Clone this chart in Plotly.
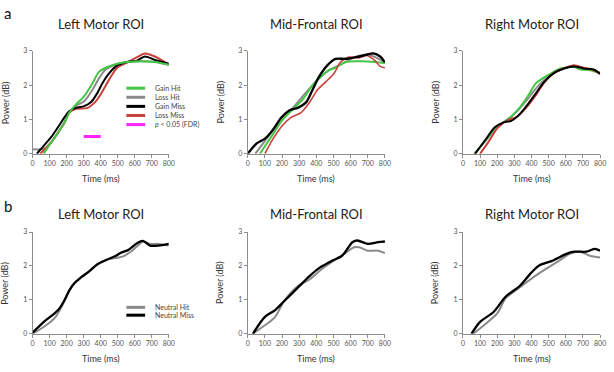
import plotly.graph_objects as go

# ---------------- data ----------------
# Panel a, Left Motor ROI
aL_gain_hit_t = [65, 110, 150, 187, 216, 255, 303, 352, 390, 429, 497, 560, 640, 720, 800]
aL_gain_hit_v = [0, 0.34, 0.62, 0.91, 1.2, 1.44, 1.68, 2.06, 2.39, 2.51, 2.63, 2.68, 2.7, 2.68, 2.6]
aL_loss_hit_t = [0, 50, 80, 110, 150, 187, 216, 255, 303, 352, 390, 429, 497, 560, 640, 720, 800]
aL_loss_hit_v = [0.13, 0.13, 0.18, 0.34, 0.62, 0.91, 1.22, 1.4, 1.53, 1.87, 2.2, 2.46, 2.62, 2.68, 2.7, 2.68, 2.6]
aL_gain_miss_t = [25, 70, 110, 150, 187, 216, 255, 303, 342, 380, 410, 448, 497, 555, 613, 660, 728, 800]
aL_gain_miss_v = [0, 0.26, 0.49, 0.78, 1.06, 1.25, 1.34, 1.39, 1.5, 1.77, 2.06, 2.34, 2.58, 2.68, 2.72, 2.84, 2.72, 2.63]
aL_loss_miss_t = [45, 110, 150, 187, 216, 255, 323, 371, 410, 448, 497, 555, 613, 660, 718, 800]
aL_loss_miss_v = [0, 0.34, 0.62, 0.91, 1.2, 1.31, 1.34, 1.53, 1.82, 2.15, 2.51, 2.66, 2.82, 2.93, 2.84, 2.6]
sig_start = [300]
sig_end = [400]
sig_level = 0.5

# Panel a, Mid-Frontal ROI
aM_gain_hit_t = [71, 148, 205, 263, 320, 378, 426, 474, 512, 570, 666, 742, 800]
aM_gain_hit_v = [0, 0.58, 1.0, 1.3, 1.58, 2.0, 2.25, 2.44, 2.51, 2.68, 2.7, 2.68, 2.65]
aM_loss_hit_t = [44, 110, 186, 263, 340, 416, 474, 551, 628, 704, 762, 800]
aM_loss_hit_v = [0, 0.44, 0.99, 1.34, 1.79, 2.2, 2.44, 2.63, 2.82, 2.9, 2.77, 2.67]
aM_gain_miss_t = [0, 52, 100, 148, 196, 244, 292, 340, 378, 416, 464, 512, 570, 628, 685, 733, 772, 800]
aM_gain_miss_v = [0, 0.3, 0.44, 0.7, 1.06, 1.27, 1.34, 1.5, 1.87, 2.25, 2.58, 2.77, 2.77, 2.82, 2.88, 2.93, 2.84, 2.67]
aM_loss_miss_t = [100, 148, 205, 253, 311, 359, 407, 455, 503, 541, 589, 647, 695, 742, 772, 800]
aM_loss_miss_v = [0, 0.44, 0.84, 1.06, 1.2, 1.49, 1.87, 2.1, 2.34, 2.68, 2.82, 2.8, 2.87, 2.72, 2.55, 2.51]

# Panel a, Right Motor ROI
aR_gain_hit_t = [71, 129, 186, 234, 282, 330, 378, 426, 464, 512, 570, 647, 685, 742, 800]
aR_gain_hit_v = [0, 0.38, 0.72, 0.91, 1.09, 1.34, 1.68, 2.06, 2.2, 2.34, 2.49, 2.53, 2.46, 2.44, 2.36]
aR_loss_hit_t = [65, 129, 186, 234, 282, 330, 378, 426, 474, 532, 589, 647, 704, 762, 800]
aR_loss_hit_v = [0, 0.36, 0.7, 0.9, 1.08, 1.32, 1.6, 1.91, 2.15, 2.36, 2.49, 2.56, 2.5, 2.45, 2.35]
aR_gain_miss_t = [71, 129, 186, 234, 282, 330, 378, 426, 474, 532, 589, 647, 704, 762, 800]
aR_gain_miss_v = [0, 0.39, 0.77, 0.91, 0.96, 1.15, 1.44, 1.77, 2.1, 2.36, 2.49, 2.55, 2.49, 2.46, 2.34]
aR_loss_miss_t = [100, 148, 205, 263, 311, 368, 426, 474, 532, 589, 647, 704, 762, 800]
aR_loss_miss_v = [0, 0.34, 0.77, 0.99, 1.06, 1.34, 1.72, 2.08, 2.36, 2.49, 2.58, 2.51, 2.44, 2.32]

# Panel b, Left Motor ROI
bL_neutral_hit_t = [0, 71, 129, 158, 187, 216, 245, 284, 332, 381, 439, 487, 535, 574, 622, 647, 690, 738, 800]
bL_neutral_hit_v = [0, 0.22, 0.46, 0.68, 0.97, 1.28, 1.49, 1.66, 1.84, 2.05, 2.19, 2.23, 2.29, 2.41, 2.62, 2.72, 2.65, 2.65, 2.6]
bL_neutral_miss_t = [0, 71, 129, 158, 187, 216, 245, 284, 332, 381, 439, 487, 516, 564, 613, 647, 690, 738, 800]
bL_neutral_miss_v = [0.03, 0.37, 0.6, 0.75, 0.99, 1.28, 1.49, 1.66, 1.84, 2.05, 2.19, 2.29, 2.38, 2.48, 2.67, 2.74, 2.6, 2.6, 2.65]

# Panel b, Mid-Frontal ROI
bM_neutral_hit_t = [30, 100, 160, 210, 290, 360, 430, 500, 560, 620, 650, 700, 760, 800]
bM_neutral_hit_v = [0, 0.25, 0.5, 0.95, 1.4, 1.6, 1.9, 2.15, 2.35, 2.55, 2.55, 2.45, 2.45, 2.38]
bM_neutral_miss_t = [30, 100, 160, 210, 300, 360, 420, 490, 550, 610, 640, 700, 760, 800]
bM_neutral_miss_v = [0, 0.5, 0.7, 0.95, 1.4, 1.7, 1.95, 2.15, 2.3, 2.7, 2.75, 2.65, 2.7, 2.72]

# Panel b, Right Motor ROI
bR_neutral_hit_t = [60, 110, 200, 250, 340, 420, 480, 560, 620, 680, 740, 800]
bR_neutral_hit_v = [0, 0.2, 0.6, 1.05, 1.4, 1.7, 1.9, 2.15, 2.35, 2.42, 2.3, 2.25]
bR_neutral_miss_t = [50, 100, 180, 250, 330, 390, 440, 520, 600, 650, 720, 770, 800]
bR_neutral_miss_v = [0, 0.35, 0.65, 1.1, 1.4, 1.75, 2.0, 2.15, 2.35, 2.42, 2.42, 2.5, 2.45]

roi_titles = ["Left Motor ROI", "Mid-Frontal ROI", "Right Motor ROI"]
x_ticks = [0, 100, 200, 300, 400, 500, 600, 700, 800]
y_ticks = [0, 1, 2, 3]
legend_a = ["Gain Hit", "Loss Hit", "Gain Miss", "Loss Miss", "<i>p</i> &lt; 0.05 (FDR)"]
legend_b = ["Neutral Hit", "Neutral Miss"]

# ---------------- styles ----------------
GREEN = "#45c545"
GRAY = "#8a8a8a"
BLACK = "#000000"
RED = "#c8413a"
MAGENTA = "#ff22ff"
FONT = "Lato"
W, H = 614, 372

def px(x):
    return x / W

def py(y):
    return 1 - y / H

fig = go.Figure()

col_x = [(31, 169), (249, 388), (467, 606)]
row_y = [(47, 152), (232, 336)]

def add(axis_idx, t, v, color, width=2):
    suffix = "" if axis_idx == 1 else str(axis_idx)
    fig.add_trace(go.Scatter(x=t, y=v, mode="lines", xaxis="x" + suffix, yaxis="y" + suffix,
                             line=dict(color=color, width=width, shape="spline", smoothing=0.8),
                             showlegend=False, hoverinfo="skip"))

# row a
add(1, aL_loss_hit_t, aL_loss_hit_v, GRAY)
add(1, aL_loss_miss_t, aL_loss_miss_v, RED)
add(1, aL_gain_miss_t, aL_gain_miss_v, BLACK)
add(1, aL_gain_hit_t, aL_gain_hit_v, GREEN)
for s, e in zip(sig_start, sig_end):
    fig.add_trace(go.Scatter(x=[s, e], y=[sig_level, sig_level], mode="lines", xaxis="x", yaxis="y",
                             line=dict(color=MAGENTA, width=3), showlegend=False, hoverinfo="skip"))

add(2, aM_loss_hit_t, aM_loss_hit_v, GRAY)
add(2, aM_gain_hit_t, aM_gain_hit_v, GREEN)
add(2, aM_loss_miss_t, aM_loss_miss_v, RED, 1.6)
add(2, aM_gain_miss_t, aM_gain_miss_v, BLACK, 2.3)

add(3, aR_loss_hit_t, aR_loss_hit_v, GRAY)
add(3, aR_gain_hit_t, aR_gain_hit_v, GREEN)
add(3, aR_loss_miss_t, aR_loss_miss_v, RED)
add(3, aR_gain_miss_t, aR_gain_miss_v, BLACK)

# row b
add(4, bL_neutral_hit_t, bL_neutral_hit_v, GRAY)
add(4, bL_neutral_miss_t, bL_neutral_miss_v, BLACK, 2.3)
add(5, bM_neutral_hit_t, bM_neutral_hit_v, GRAY)
add(5, bM_neutral_miss_t, bM_neutral_miss_v, BLACK, 2.3)
add(6, bR_neutral_hit_t, bR_neutral_hit_v, GRAY)
add(6, bR_neutral_miss_t, bR_neutral_miss_v, BLACK, 2.3)

axis_common = dict(showgrid=False, zeroline=False, showline=True, linecolor="#8c8c8c", linewidth=1,
                   ticks="outside", ticklen=3, tickcolor="#8c8c8c", tickwidth=1,
                   tickfont=dict(family=FONT, size=7, color="#555555"))

layout_axes = {}
annotations = []
idx = 1
for r, (y0, y1) in enumerate(row_y):
    for c, (x0, x1) in enumerate(col_x):
        suffix = "" if idx == 1 else str(idx)
        layout_axes["xaxis" + suffix] = dict(axis_common, domain=[px(x0), px(x1)], range=[0, 800],
                                             tickvals=x_ticks, anchor="y" + suffix)
        layout_axes["yaxis" + suffix] = dict(axis_common, domain=[py(y1), py(y0)], range=[0, 3],
                                             tickvals=y_ticks, anchor="x" + suffix)
        cx = (x0 + x1) / 2
        title_y = 19 if r == 0 else 214
        annotations.append(dict(text=roi_titles[c], x=px(cx), y=py(title_y), xref="paper", yref="paper",
                                showarrow=False, xanchor="center", yanchor="middle",
                                font=dict(family=FONT, size=13, color="#222222")))
        annotations.append(dict(text="Time (ms)", x=px(cx), y=py(y1 + 25), xref="paper", yref="paper",
                                showarrow=False, xanchor="center", yanchor="middle",
                                font=dict(family=FONT, size=9, color="#333333")))
        annotations.append(dict(text="Power (dB)", x=px(x0 - 28), y=py((y0 + y1) / 2), xref="paper",
                                yref="paper", showarrow=False, textangle=-90, xanchor="center",
                                yanchor="middle", font=dict(family=FONT, size=9, color="#333333")))
        idx += 1

annotations.append(dict(text="a", x=0, y=py(8), xref="paper", yref="paper", showarrow=False,
                        xanchor="left", yanchor="middle", font=dict(family=FONT, size=15, color="#111111")))
annotations.append(dict(text="b", x=0, y=py(205), xref="paper", yref="paper", showarrow=False,
                        xanchor="left", yanchor="middle", font=dict(family=FONT, size=15, color="#111111")))

shapes = []
leg_a_colors = [GREEN, GRAY, BLACK, RED, MAGENTA]
for i, (lab, col) in enumerate(zip(legend_a, leg_a_colors)):
    yy = 85 + i * 9.3
    shapes.append(dict(type="line", xref="paper", yref="paper", x0=px(126), x1=px(145), y0=py(yy), y1=py(yy),
                       line=dict(color=col, width=3)))
    annotations.append(dict(text=lab, x=px(153), y=py(yy), xref="paper", yref="paper", showarrow=False,
                            xanchor="left", yanchor="middle", font=dict(family=FONT, size=7, color="#444444")))
leg_b_colors = [GRAY, BLACK]
for i, (lab, col) in enumerate(zip(legend_b, leg_b_colors)):
    yy = 309 + i * 8
    shapes.append(dict(type="line", xref="paper", yref="paper", x0=px(126), x1=px(145), y0=py(yy), y1=py(yy),
                       line=dict(color=col, width=3)))
    annotations.append(dict(text=lab, x=px(153), y=py(yy), xref="paper", yref="paper", showarrow=False,
                            xanchor="left", yanchor="middle", font=dict(family=FONT, size=7, color="#444444")))

fig.update_layout(width=W, height=H, margin=dict(l=0, r=0, t=0, b=0), paper_bgcolor="white",
                  plot_bgcolor="white", showlegend=False, annotations=annotations, shapes=shapes,
                  **layout_axes)

fig.write_html("out.html")
